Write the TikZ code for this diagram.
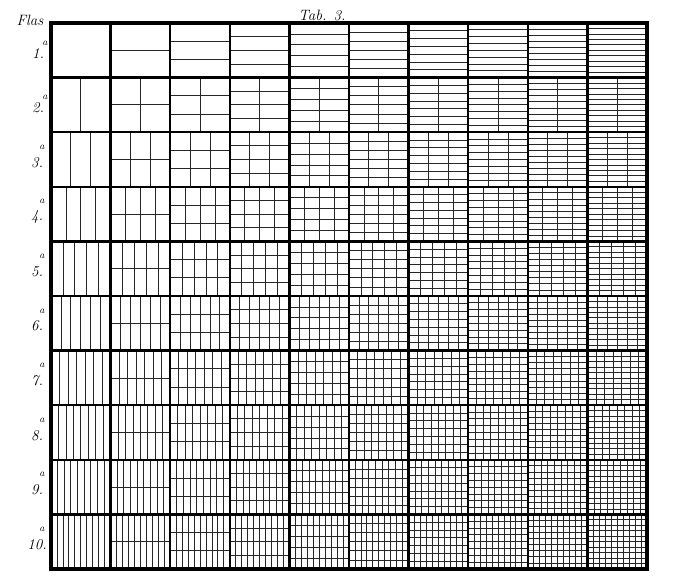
\documentclass[tikz,border=0pt]{standalone}
\begin{document}
\begin{tikzpicture}[x=1pt,y=-1pt,
  fine/.style={line width=0.8pt, black!85},
  cellb/.style={line width=2.4pt, black},
  outer/.style={line width=3.2pt, black},
  lab/.style={font=\fontsize{15}{17}\selectfont\itshape, inner sep=0pt},
  sup/.style={font=\fontsize{10}{11}\selectfont\itshape, inner sep=0pt}]
\useasboundingbox (0,0) rectangle (678,583);
\fill[white] (0,0) rectangle (678,583);
\def\X{51}\def\Y{23}\def\W{59.6}\def\H{54.6}
\foreach \i in {1,...,10}{
  \foreach \j in {1,...,10}{
    \pgfmathsetmacro\xa{\X+(\j-1)*\W}
    \pgfmathsetmacro\ya{\Y+(\i-1)*\H}
    \ifnum\i>1
      \foreach \k in {2,...,\i}{\draw[fine] ({\xa+(\k-1)*\W/\i},\ya) -- ++(0,\H);}
    \fi
    \ifnum\j>1
      \foreach \k in {2,...,\j}{\draw[fine] (\xa,{\ya+(\k-1)*\H/\j}) -- ++(\W,0);}
    \fi
  }
}
\foreach \k in {1,...,9}{
  \draw[cellb] ({\X+\k*\W},\Y) -- ++(0,10*\H);
  \draw[cellb] (\X,{\Y+\k*\H}) -- ++(10*\W,0);
}
\draw[outer] (\X,\Y) rectangle ++(10*\W,10*\H);
\node[lab] (flas) at (30,20) {Flas};
\node[lab] (tab) at (322,15) {Tab. 3.};
\foreach \i in {1,2}{
  \node[lab] (r\i) at (38,{\Y+(\i-0.45)*\H}) {\i.};
  \node[sup] (a\i) at (45,{\Y+(\i-0.45)*\H-10}) {a};
}
\foreach \i in {3,...,10}{
  \node[lab] (r\i) at (37,{\Y+(\i-0.45)*\H}) {\i.};
  \node[sup] (a\i) at (42,{\Y+(\i-0.45)*\H-15}) {a};
}
\end{tikzpicture}
\end{document}
